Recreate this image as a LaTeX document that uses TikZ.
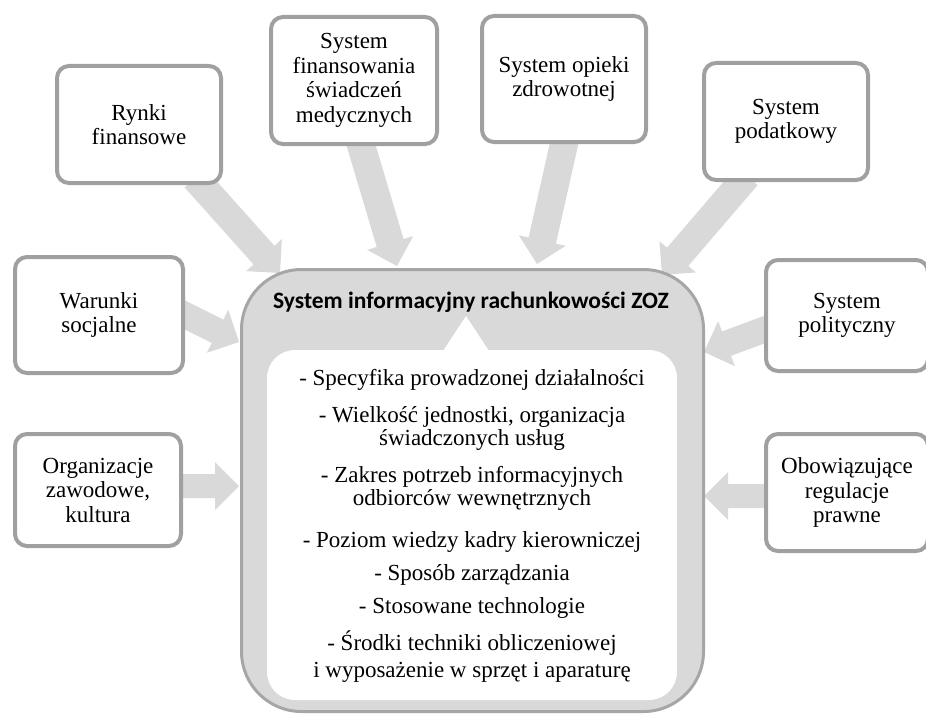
\documentclass[tikz,border=0pt]{standalone}
\usepackage{fontspec}
\setmainfont{Liberation Serif}
\newfontfamily\titlefont{Carlito}
\usetikzlibrary{calc}
\definecolor{arrgray}{HTML}{D9D9D9}
\definecolor{boxline}{HTML}{A0A0A0}
\definecolor{outerline}{HTML}{A6A6A6}
\definecolor{outerfill}{HTML}{D9D9D9}
% #1 start, #2 tip, #3 half shaft width
\newcommand\blockarrow[3]{%
  \fill[arrgray] let \p1=(#1), \p2=(#2), \n1={atan2(\y2-\y1,\x2-\x1)} in
    ($(\p1)+({\n1+90}:#3pt)$)
    -- ($(\p2)+({\n1+180}:24pt)+({\n1+90}:#3pt)$)
    -- ($(\p2)+({\n1+180}:24pt)+({\n1+90}:24pt)$)
    -- (\p2)
    -- ($(\p2)+({\n1+180}:24pt)+({\n1-90}:24pt)$)
    -- ($(\p2)+({\n1+180}:24pt)+({\n1-90}:#3pt)$)
    -- ($(\p1)+({\n1-90}:#3pt)$) -- cycle;}
\tikzset{
  sbox/.style={draw=boxline, line width=4pt, fill=white, rounded corners=12pt,
    align=center, inner sep=0pt, text=black,
    font=\fontsize{23}{24.5}\selectfont},
  item/.style={align=center, inner sep=0pt, text=black,
    font=\fontsize{23}{23.5}\selectfont},
}
\begin{document}
\begin{tikzpicture}[x=1pt,y=-1pt]
\useasboundingbox (0,0) rectangle (926,717);
\clip (0,0) rectangle (926,717);
\fill[white] (0,0) rectangle (926,717);
% arrow end points
\coordinate (s1) at (195,178); \coordinate (t1) at (280,273);
\coordinate (s2) at (358,135); \coordinate (t2) at (397,266);
\coordinate (s3) at (566,135); \coordinate (t3) at (537,264);
\coordinate (s4) at (747,176); \coordinate (t4) at (662,275);
\coordinate (s5) at (175,310); \coordinate (t5) at (239,342);
\coordinate (s6) at (774,326); \coordinate (t6) at (704,352);
\coordinate (s7) at (175,486); \coordinate (t7) at (239,486);
\coordinate (s8) at (774,496); \coordinate (t8) at (704,496);
\blockarrow{s1}{t1}{14}
\blockarrow{s2}{t2}{14}
\blockarrow{s3}{t3}{14}
\blockarrow{s4}{t4}{14}
\blockarrow{s5}{t5}{13}
\blockarrow{s6}{t6}{13}
\blockarrow{s7}{t7}{12}
\blockarrow{s8}{t8}{12}
% small boxes
\node[sbox, minimum width=164pt, minimum height=117pt] (rynki) at (139,124.5) {Rynki\\finansowe};
\node[sbox, minimum width=166pt, minimum height=127pt] (finans) at (354,80.5) {System\\finansowania\\świadczeń\\medycznych};
\node[sbox, minimum width=164pt, minimum height=126pt] (opieki) at (564,79) {System opieki\\zdrowotnej};
\node[sbox, minimum width=164pt, minimum height=117pt] (podat) at (786,121.5) {System\\podatkowy};
\node[sbox, minimum width=168pt, minimum height=116pt] (warunki) at (99,315) {Warunki\\socjalne};
\node[sbox, minimum width=162pt, minimum height=111pt] (polit) at (847,315.5) {System\\polityczny};
\node[sbox, minimum width=166pt, minimum height=112pt] (organ) at (98,490) {Organizacje\\zawodowe,\\kultura};
\node[sbox, minimum width=162pt, minimum height=117pt] (obow) at (847,492.5) {Obowiązujące\\regulacje\\prawne};
% central box
\node[draw=outerline, line width=3pt, fill=outerfill, rounded corners=60pt,
  minimum width=462pt, minimum height=442pt, inner sep=0pt] (outer) at (472.5,490.5) {};
\node[fill=white, rounded corners=28pt, minimum width=410pt, minimum height=350pt,
  inner sep=0pt] (inner) at (472,525) {};
\fill[white] (443,351) -- (466,316) -- (489,351) -- cycle;
\node[inner sep=0pt, text=black, font=\titlefont\bfseries\fontsize{23.5}{24}\selectfont] (title) at (471,302) {System informacyjny rachunkowości ZOZ};
% items
\node[item] (i1) at (472,380) {- Specyfika prowadzonej działalności};
\node[item] (i2) at (472,428.5) {- Wielkość jednostki, organizacja\\świadczonych usług};
\node[item] (i3) at (472,488.5) {- Zakres potrzeb informacyjnych\\odbiorców wewnętrznych};
\node[item] (i4) at (472,542) {- Poziom wiedzy kadry kierowniczej};
\node[item] (i5) at (472,575) {- Sposób zarządzania};
\node[item] (i6) at (472,608) {- Stosowane technologie};
\node[item, font=\fontsize{23}{26.5}\selectfont] (i7) at (472,656.5) {- Środki techniki obliczeniowej\\i wyposażenie w sprzęt i aparaturę};
\end{tikzpicture}
\end{document}
